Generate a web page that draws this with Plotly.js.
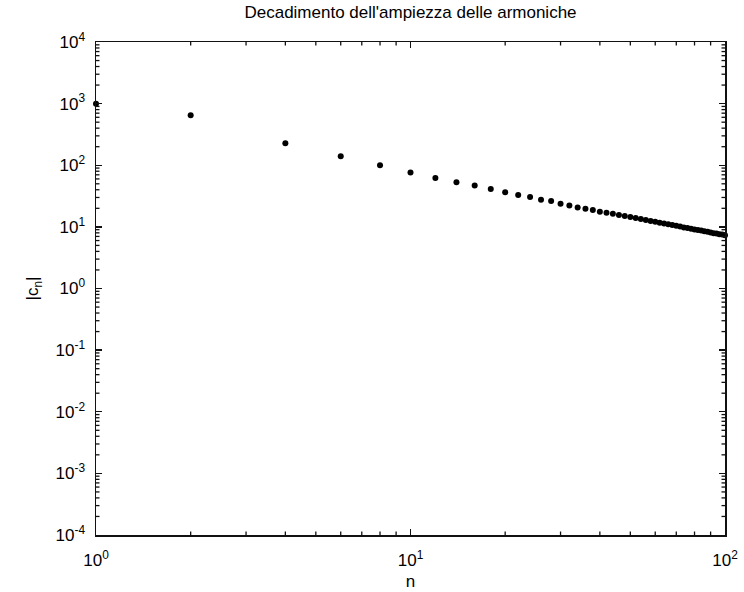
<!DOCTYPE html>
<html>
<head>
<meta charset="utf-8">
<script src="https://cdn.plot.ly/plotly-3.0.1.min.js"></script>
<style>html,body{margin:0;padding:0;background:#fff;}#chart{width:744px;height:592px;}</style>
</head>
<body>
<div id="chart"></div>
<script>
const harmonicN = [1, 2, 4, 6, 8, 10, 12, 14, 16, 18, 20, 22, 24, 26, 28, 30, 32, 34, 36, 38, 40,
  42, 44, 46, 48, 50, 52, 54, 56, 58, 60, 62, 64, 66, 68, 70, 72, 74, 76, 78, 80,
  82, 84, 86, 88, 90, 92, 94, 96, 98, 100];
const amplitude = [1000, 650, 227, 140, 100, 76, 62, 53, 47, 41, 36.3, 32.8, 30.5, 27.5, 26.2, 23.7, 22.3, 20.7, 19.7, 18.7, 17.6,
  17.0, 16.3, 15.6, 15.0, 14.4, 13.9, 13.4, 12.9, 12.5, 12.1, 11.7, 11.3, 11.0, 10.7, 10.4, 10.1, 9.8, 9.6, 9.3, 9.1,
  8.9, 8.7, 8.5, 8.3, 8.1, 7.9, 7.8, 7.6, 7.5, 7.3];
const xTickVals = [1, 10, 100];
const xTickText = ['10<sup>0</sup>', '10<sup>1</sup>', '10<sup>2</sup>'];
const yTickVals = [1e-4, 1e-3, 1e-2, 1e-1, 1, 10, 100, 1000, 10000];
const yTickText = ['10<sup>-4</sup>', '10<sup>-3</sup>', '10<sup>-2</sup>', '10<sup>-1</sup>', '10<sup>0</sup>',
  '10<sup>1</sup>', '10<sup>2</sup>', '10<sup>3</sup>', '10<sup>4</sup>'];

function minorTicks(decades) {
  const out = [];
  decades.slice(0, -1).forEach(d => { for (let k = 2; k <= 9; k++) out.push(k * d); });
  return out;
}

const tickColor = '#111';
const minorLen = 3.5;
const shapes = [];
minorTicks(xTickVals).forEach(v => {
  [0, 1].forEach(side => {
    shapes.push({type: 'line', xref: 'x', yref: 'paper', ysizemode: 'pixel', yanchor: side,
      x0: v, x1: v, y0: 0, y1: side === 0 ? minorLen : -minorLen,
      line: {color: tickColor, width: 1.3}});
  });
});
minorTicks(yTickVals).forEach(v => {
  [0, 1].forEach(side => {
    shapes.push({type: 'line', yref: 'y', xref: 'paper', xsizemode: 'pixel', xanchor: side,
      y0: v, y1: v, x0: 0, x1: side === 0 ? minorLen : -minorLen,
      line: {color: tickColor, width: 1.3}});
  });
});

const font = {family: 'Liberation Sans, Arial, sans-serif', color: '#000'};
const axisCommon = {
  type: 'log', showline: true, linecolor: tickColor, linewidth: 1.5, mirror: 'allticks',
  ticks: 'inside', ticklen: 6, tickwidth: 1.3, tickcolor: tickColor, showgrid: false, zeroline: false,
  tickfont: Object.assign({size: 17}, font)
};

const trace = {
  x: harmonicN, y: amplitude, type: 'scatter', mode: 'markers',
  marker: {color: '#000', size: 6, symbol: 'circle'}, cliponaxis: false, hoverinfo: 'x+y'
};

const layout = {
  width: 744, height: 592,
  margin: {l: 96, r: 19, t: 42, b: 57},
  paper_bgcolor: '#fff', plot_bgcolor: '#fff',
  showlegend: false,
  font: font,
  shapes: shapes,
  title: {text: "Decadimento dell'ampiezza delle armoniche", font: Object.assign({size: 17}, font),
    x: 0.5, xref: 'paper', y: 1, yref: 'container', yanchor: 'top', pad: {t: 6}},
  xaxis: Object.assign({}, axisCommon, {
    range: [0, 2], tickmode: 'array', tickvals: xTickVals, ticktext: xTickText,
    ticklabelstandoff: 9,
    title: {text: 'n', font: Object.assign({size: 17}, font), standoff: 6}
  }),
  yaxis: Object.assign({}, axisCommon, {
    range: [-4, 4], tickmode: 'array', tickvals: yTickVals, ticktext: yTickText,
    ticklabelstandoff: 6,
    title: {text: '|c<sub>n</sub>|', font: Object.assign({size: 17}, font), standoff: 12}
  })
};

Plotly.newPlot('chart', [trace], layout, {displayModeBar: false, staticPlot: true});
</script>
</body>
</html>
